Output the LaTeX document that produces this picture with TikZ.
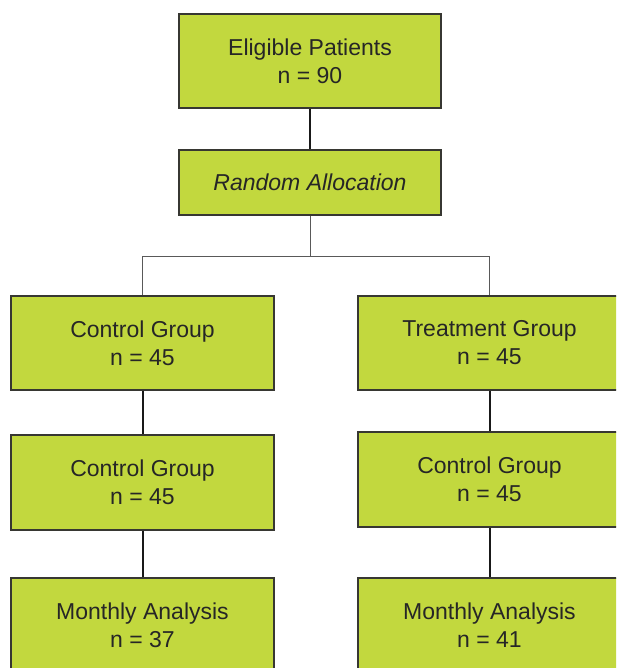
\documentclass[tikz,border=0pt]{standalone}
\usepackage{fontspec}
\setmainfont{Liberation Sans}
\definecolor{boxfill}{RGB}{194,216,62}
\definecolor{boxline}{RGB}{55,55,50}
\begin{document}
\begin{tikzpicture}[x=1pt,y=-1pt,
  box/.style={draw=boxline, line width=1.3pt, fill=boxfill, minimum width=262pt, align=center,
    inner sep=0pt, font=\fontsize{23}{28}\selectfont, text=black!85},
  link/.style={draw=black!90, line width=2pt},
  busline/.style={draw=black!65, line width=1pt}]
\useasboundingbox (0,0) rectangle (616,668);
\clip (0,0) rectangle (616,668);
\node[box, minimum height=94pt] (ep) at (310,61) {Eligible Patients\\n = 90};
\node[box, minimum height=65pt] (ra) at (310,182.5) {\itshape Random Allocation};
\node[box, minimum height=94pt, minimum width=263pt] (cg1) at (142.5,343) {Control Group\\n = 45};
\node[box, minimum height=94pt, minimum width=263pt] (tg1) at (489.5,343) {Treatment Group\\n = 45};
\node[box, minimum height=95pt, minimum width=263pt] (cg2) at (142.5,482.5) {Control Group\\n = 45};
\node[box, minimum height=95pt, minimum width=263pt] (cg2r) at (489.5,479.5) {Control Group\\n = 45};
\node[box, minimum height=94pt, minimum width=263pt] (ma1) at (142.5,625) {Monthly Analysis\\n = 37};
\node[box, minimum height=94pt, minimum width=263pt] (ma2) at (489.5,625) {Monthly Analysis\\n = 41};
\coordinate (bus) at (310,256);
\draw[link] (ep.south) -- (ra.north);
\draw[busline] (ra.south) -- (bus);
\draw[busline] (bus) -| (cg1.north);
\draw[busline] (bus) -| (tg1.north);
\draw[link] (cg1.south) -- (cg2.north);
\draw[link] (tg1.south) -- (cg2r.north);
\draw[link] (cg2.south) -- (ma1.north);
\draw[link] (cg2r.south) -- (ma2.north);
\end{tikzpicture}
\end{document}
